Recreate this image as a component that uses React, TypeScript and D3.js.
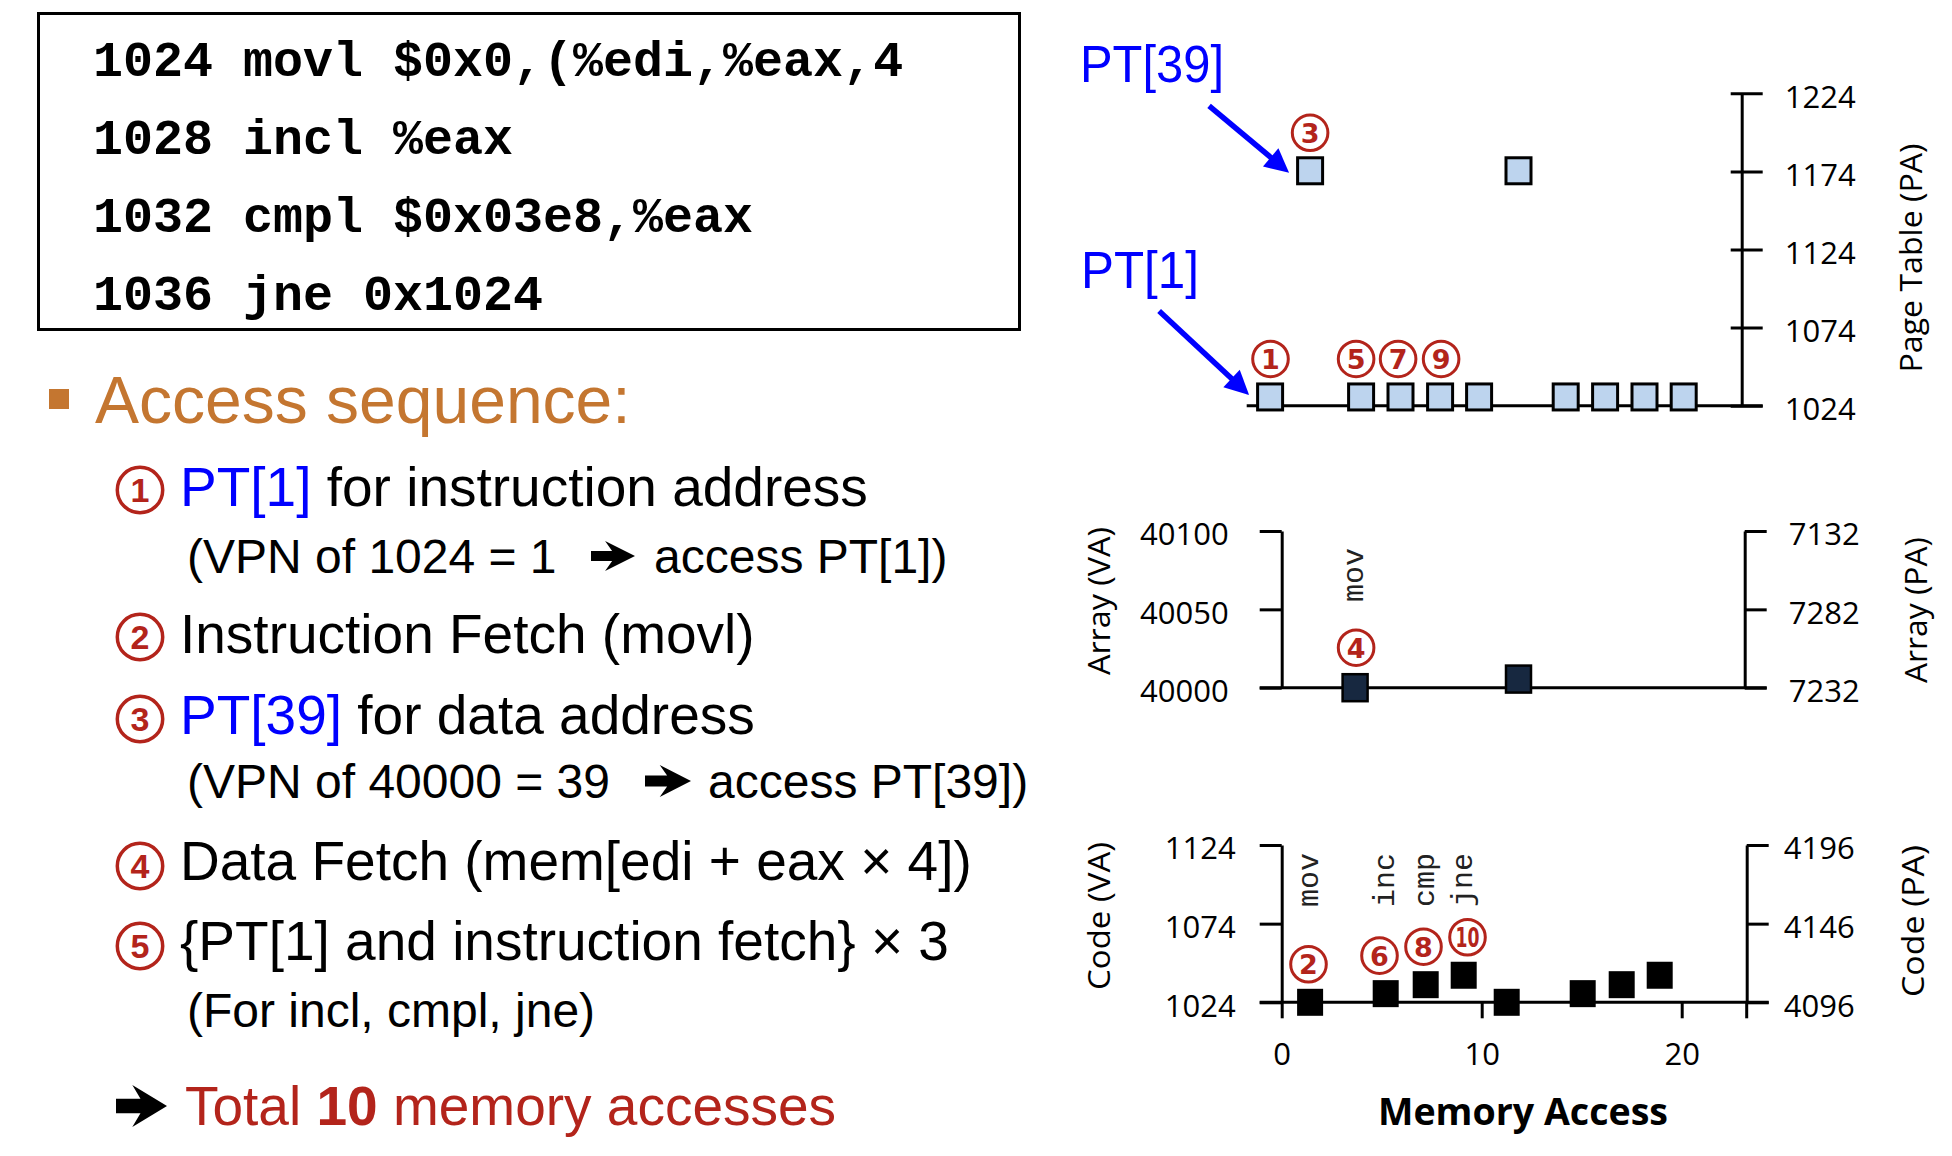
import * as d3 from 'd3';
import { useRef, useEffect } from 'react';

const W = 1952;
const H = 1156;

// assembly listing in the box
const codeLines = ['1024 movl $0x0,(%edi,%eax,4', '1028 incl %eax', '1032 cmpl $0x03e8,%eax', '1036 jne 0x1024'];

// page table trace: memory access index -> physical address
const ptX = [-0.58, 1.42, 3.97, 5.94, 7.92, 9.87, 11.84, 14.2, 16.17, 18.14, 20.1];
const ptPA = [1029.6, 1174.4, 1029.6, 1029.6, 1029.6, 1029.6, 1174.4, 1029.6, 1029.6, 1029.6, 1029.6];
// array trace
const arrX = [3.67, 11.84];
const arrVA = [40000, 40005.5];
// code trace
const codeX = [1.42, 5.2, 7.2, 9.1, 11.25, 15.05, 17.0, 18.9];
const codeVA = [1024, 1029.5, 1035.2, 1041.2, 1024, 1029.5, 1035.2, 1041.2];

// ticks
const xTicks = [0, 10, 20];
const ptTicks = [1024, 1074, 1124, 1174, 1224];
const arrTicks = [40000, 40050, 40100];
const arrTicksPA = ['7232', '7282', '7132'];
const codeTicks = [1024, 1074, 1124];
const codeTicksPA = ['4096', '4146', '4196'];

// circled step numbers: label, point it sits on, x of the circle
const ptSteps = ['1', '3', '5', '7', '9'];
const ptStepPoint = [0, 1, 2, 3, 4];
const ptStepX = [-0.56, 1.42, 3.72, 5.82, 7.97];
const arrSteps = ['4'];
const arrStepPoint = [0];
const arrStepX = [3.72];
const codeSteps = ['2', '6', '8', '10'];
const codeStepPoint = [0, 1, 2, 3];
const codeStepX = [1.34, 4.89, 7.09, 9.29];

// instruction tags
const arrOps = ['mov'];
const arrOpPoint = [0];
const arrOpLevel = 40054.7;
const codeOps = ['mov', 'inc', 'cmp', 'jne'];
const codeOpPoint = [0, 1, 2, 3];
const codeOpLevel = 1084.6;

const RED = '#b3241b';
const BLUE = '#0000ff';
const ORANGE = '#c47630';
const SANS = "'Liberation Sans', Arial, sans-serif";
const TICK = "'Open Sans', 'Noto Sans', sans-serif";
const MONO = "'Liberation Mono', 'Courier New', monospace";
const RING = "'DejaVu Sans', sans-serif";

const x = d3.scaleLinear().domain([0, 20]).range([1281.7, 1681.7]);
const yPT = d3.scaleLinear().domain([1024, 1224]).range([405.7, 93.3]);
const yArr = d3.scaleLinear().domain([40000, 40100]).range([687.7, 531]);
const yCode = d3.scaleLinear().domain([1024, 1124]).range([1002.3, 845]);

const heavyArrow = (x0: number, cy: number, w: number, h: number) => {
    const p = d3.path();
    p.moveTo(x0, cy - 0.17 * h);
    p.lineTo(x0 + 0.48 * w, cy - 0.17 * h);
    p.lineTo(x0 + 0.32 * w, cy - 0.5 * h);
    p.lineTo(x0 + w, cy);
    p.lineTo(x0 + 0.32 * w, cy + 0.5 * h);
    p.lineTo(x0 + 0.48 * w, cy + 0.17 * h);
    p.lineTo(x0, cy + 0.17 * h);
    p.closePath();
    return p.toString();
};

const Pointer = ({ tx, ty, dx, dy }: { tx: number; ty: number; dx: number; dy: number }) => {
    const len = Math.hypot(dx, dy);
    const ux = -dx / len, uy = -dy / len;
    const hl = 24, hw = 12;
    const bx = tx - ux * hl, by = ty - uy * hl;
    const px = -uy, py = ux;
    return (
        <g>
            <line x1={tx + dx} y1={ty + dy} x2={bx + ux * 4} y2={by + uy * 4} stroke={BLUE} strokeWidth={5.5} />
            <path d={`M${tx},${ty}L${bx + px * hw},${by + py * hw}L${bx - px * hw},${by - py * hw}Z`} fill={BLUE} />
        </g>
    );
};

const Ring = ({ cx, cy, label }: { cx: number; cy: number; label: string }) => (
    <g>
        <circle cx={cx} cy={cy} r={17.8} fill="#fff" stroke={RED} strokeWidth={3} />
        <text x={cx} y={cy + 27 * 0.365} textAnchor="middle" fontFamily={RING} fontWeight="bold" fontSize={27} fill={RED}
            {...(label.length > 1 ? { textLength: 24, lengthAdjust: 'spacingAndGlyphs' } : {})}>{label}</text>
    </g>
);

const BigRing = ({ cy, label }: { cy: number; label: string }) => (
    <g>
        <circle cx={140} cy={cy} r={22.7} fill="#fff" stroke={RED} strokeWidth={3.5} />
        <text x={140} y={cy + 34 * 0.358} textAnchor="middle" fontFamily={SANS} fontWeight="bold" fontSize={34} fill={RED}>{label}</text>
    </g>
);

const Rotated = ({ cx, cy, len, children }: { cx: number; cy: number; len: number; children: string }) => (
    <text transform={`translate(${cx},${cy}) rotate(-90)`} textAnchor="middle" dominantBaseline="central"
        fontFamily={TICK} fontSize={31} fill="#000" textLength={len} lengthAdjust="spacingAndGlyphs">{children}</text>
);

const OpTag = ({ px, py, label }: { px: number; py: number; label: string }) => (
    <text transform={`translate(${px + 8},${py}) rotate(-90)`} fontFamily={MONO} fontSize={30} fill="#222">{label}</text>
);

export default function App() {
    const ptAxis = useRef<SVGGElement>(null);
    const arrLeft = useRef<SVGGElement>(null);
    const arrRight = useRef<SVGGElement>(null);
    const codeLeft = useRef<SVGGElement>(null);
    const codeRight = useRef<SVGGElement>(null);
    const xAxis = useRef<SVGGElement>(null);

    useEffect(() => {
        const style = (g: d3.Selection<SVGGElement, unknown, null, undefined>) => {
            g.selectAll('line').attr('stroke', '#000').attr('stroke-width', 3);
            g.selectAll('.domain').attr('stroke', '#000').attr('stroke-width', 3);
            g.selectAll('text').attr('fill', '#000').style('font-family', TICK).style('font-size', '31px');
        };
        const fmt = d3.format('d');

        const g1 = d3.select(ptAxis.current!);
        g1.selectAll('*').remove();
        g1.attr('transform', `translate(${x(23.0)},0)`)
            .call(d3.axisRight(yPT).tickValues(ptTicks).tickFormat(d => fmt(d as number)).tickSize(21).tickSizeOuter(0).tickPadding(22));
        g1.selectAll('.tick line').attr('x1', -11);
        g1.selectAll('.tick text').attr('dy', '0.45em');
        style(g1);

        const g2 = d3.select(arrLeft.current!);
        g2.selectAll('*').remove();
        g2.attr('transform', `translate(${x(0)},0)`)
            .call(d3.axisLeft(yArr).tickValues(arrTicks).tickFormat(d => fmt(d as number)).tickSize(22).tickSizeOuter(0).tickPadding(31));
        g2.selectAll('.tick text').attr('dy', '0.45em');
        style(g2);

        const g3 = d3.select(arrRight.current!);
        g3.selectAll('*').remove();
        g3.attr('transform', `translate(${x(23.15)},0)`)
            .call(d3.axisRight(yArr).tickValues(arrTicks).tickFormat((_, i) => arrTicksPA[i]).tickSize(22).tickSizeOuter(0).tickPadding(22));
        g3.selectAll('.tick text').attr('dy', '0.45em');
        style(g3);

        const g4 = d3.select(codeLeft.current!);
        g4.selectAll('*').remove();
        g4.attr('transform', `translate(${x(0)},0)`)
            .call(d3.axisLeft(yCode).tickValues(codeTicks).tickFormat(d => fmt(d as number)).tickSize(22).tickSizeOuter(0).tickPadding(24));
        g4.selectAll('.tick text').attr('dy', '0.45em');
        style(g4);

        const g5 = d3.select(codeRight.current!);
        g5.selectAll('*').remove();
        g5.attr('transform', `translate(${x(23.25)},0)`)
            .call(d3.axisRight(yCode).tickValues(codeTicks).tickFormat((_, i) => codeTicksPA[i]).tickSize(22).tickSizeOuter(0).tickPadding(15));
        g5.selectAll('.tick text').attr('dy', '0.45em');
        style(g5);

        const g6 = d3.select(xAxis.current!);
        g6.selectAll('*').remove();
        g6.attr('transform', `translate(0,${yCode(1024)})`)
            .call(d3.axisBottom(x).tickValues(xTicks).tickFormat(d => fmt(d as number)).tickSize(16).tickSizeOuter(0).tickPadding(25));
        g6.select('.domain').remove();
        style(g6);
    }, []);

    return (
        <svg width={W} height={H} style={{ position: 'absolute', left: 0, top: 0, background: '#fff' }}>
            <rect x={0} y={0} width={W} height={H} fill="#fff" />

            {/* code box */}
            <rect x={38.5} y={13.5} width={981} height={316} fill="none" stroke="#000" strokeWidth={3} />
            {codeLines.map((c, i) => (
                <text key={c} x={93} y={76 + i * 78} fontFamily={MONO} fontWeight="bold" fontSize={50} fill="#000"
                    style={{ whiteSpace: 'pre' }}>{c}</text>
            ))}

            {/* access sequence text */}
            <rect x={49} y={389} width={20} height={20} fill={ORANGE} />
            <text x={95} y={423} fontFamily={SANS} fontSize={66} fill={ORANGE}>Access sequence:</text>

            <BigRing cy={490} label="1" />
            <text x={180} y={506} fontFamily={SANS} fontSize={55} fill="#000">
                <tspan fill={BLUE}>PT[1]</tspan> for instruction address
            </text>
            <text x={187} y={573} fontFamily={SANS} fontSize={48} fill="#000">(VPN of 1024 = 1</text>
            <path d={heavyArrow(591, 556, 44, 30)} fill="#000" />
            <text x={654} y={573} fontFamily={SANS} fontSize={48} fill="#000">access PT[1])</text>

            <BigRing cy={637} label="2" />
            <text x={180} y={653} fontFamily={SANS} fontSize={55} fill="#000">Instruction Fetch (movl)</text>

            <BigRing cy={719} label="3" />
            <text x={180} y={734} fontFamily={SANS} fontSize={55} fill="#000">
                <tspan fill={BLUE}>PT[39]</tspan> for data address
            </text>
            <text x={187} y={798} fontFamily={SANS} fontSize={48} fill="#000">(VPN of 40000 = 39</text>
            <path d={heavyArrow(645, 781, 46, 32)} fill="#000" />
            <text x={708} y={798} fontFamily={SANS} fontSize={48} fill="#000">access PT[39])</text>

            <BigRing cy={866} label="4" />
            <text x={180} y={880} fontFamily={SANS} fontSize={55} fill="#000">Data Fetch (mem[edi + eax × 4])</text>

            <BigRing cy={946} label="5" />
            <text x={180} y={960} fontFamily={SANS} fontSize={55} fill="#000">{'{PT[1] and instruction fetch} × 3'}</text>
            <text x={187} y={1027} fontFamily={SANS} fontSize={48} fill="#000">(For incl, cmpl, jne)</text>

            <path d={heavyArrow(116, 1106, 51, 42)} fill="#000" />
            <text x={185} y={1125} fontFamily={SANS} fontSize={55} fill={RED}>
                Total <tspan fontWeight="bold">10</tspan> memory accesses
            </text>

            {/* page table chart */}
            <line x1={x(-1.75)} x2={x(23.0) + 21} y1={yPT(1024)} y2={yPT(1024)} stroke="#000" strokeWidth={3} />
            <g ref={ptAxis} />
            {ptX.map((v, i) => (
                <rect key={i} x={x(v) - 12.5} y={yPT(ptPA[i]) - 13} width={25} height={26}
                    fill="#bdd4ee" stroke="#000" strokeWidth={3} />
            ))}
            {ptSteps.map((s, i) => (
                <Ring key={s} cx={x(ptStepX[i])} cy={yPT(ptPA[ptStepPoint[i]]) - 38} label={s} />
            ))}
            <Rotated cx={1910} cy={258} len={229}>Page Table (PA)</Rotated>
            <text x={1080} y={82} fontFamily={SANS} fontSize={51} fill={BLUE} textLength={144} lengthAdjust="spacingAndGlyphs">PT[39]</text>
            <text x={1081} y={288} fontFamily={SANS} fontSize={51} fill={BLUE} textLength={118} lengthAdjust="spacingAndGlyphs">PT[1]</text>
            <Pointer tx={x(ptX[1]) - 21} ty={yPT(ptPA[1]) + 2} dx={-80} dy={-67} />
            <Pointer tx={x(ptX[0]) - 21} ty={yPT(ptPA[0]) - 2} dx={-90} dy={-84} />

            {/* array chart */}
            <line x1={x(0) - 22} x2={x(23.15) + 22} y1={yArr(40000)} y2={yArr(40000)} stroke="#000" strokeWidth={3} />
            <g ref={arrLeft} />
            <g ref={arrRight} />
            {arrX.map((v, i) => (
                <rect key={i} x={x(v) - 12.5} y={yArr(arrVA[i]) - 13.5} width={25} height={27}
                    fill="#172840" stroke="#000" strokeWidth={2.5} />
            ))}
            {arrOps.map((o, i) => (
                <OpTag key={o} px={x(arrX[arrOpPoint[i]])} py={yArr(arrOpLevel)} label={o} />
            ))}
            {arrSteps.map((s, i) => (
                <Ring key={s} cx={x(arrStepX[i])} cy={yArr(arrVA[arrStepPoint[i]]) - 40} label={s} />
            ))}
            <Rotated cx={1098} cy={601} len={148}>Array (VA)</Rotated>
            <Rotated cx={1915} cy={610} len={146}>Array (PA)</Rotated>

            {/* code chart */}
            <line x1={x(0) - 22} x2={x(23.25) + 22} y1={yCode(1024)} y2={yCode(1024)} stroke="#000" strokeWidth={3} />
            <line x1={x(23.25)} x2={x(23.25)} y1={yCode(1024)} y2={yCode(1024) + 16} stroke="#000" strokeWidth={3} />
            <g ref={codeLeft} />
            <g ref={codeRight} />
            <g ref={xAxis} />
            {codeX.map((v, i) => (
                <rect key={i} x={x(v) - 13} y={yCode(codeVA[i]) - 13.5} width={26} height={27} fill="#000" />
            ))}
            {codeOps.map((o, i) => (
                <OpTag key={o} px={x(codeX[codeOpPoint[i]])} py={yCode(codeOpLevel)} label={o} />
            ))}
            {codeSteps.map((s, i) => (
                <Ring key={s} cx={x(codeStepX[i])} cy={yCode(codeVA[codeStepPoint[i]]) - 38} label={s} />
            ))}
            <Rotated cx={1098} cy={916} len={148}>Code (VA)</Rotated>
            <Rotated cx={1912} cy={921} len={152}>Code (PA)</Rotated>
            <text x={1523} y={1125} textAnchor="middle" fontFamily={TICK} fontWeight="bold" fontSize={37} fill="#000"
                textLength={290} lengthAdjust="spacingAndGlyphs">Memory Access</text>
        </svg>
    );
}
